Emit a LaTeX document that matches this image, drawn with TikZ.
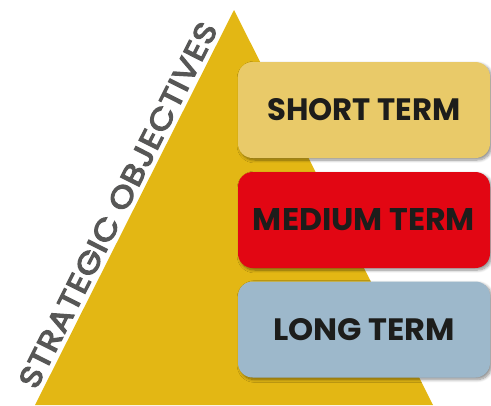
\documentclass[tikz,border=0pt]{standalone}
\usepackage{fontspec}
\setmainfont{Poppins}
\newfontfamily\sidefont{Poppins}[FakeBold=4, LetterSpace=3]
\usetikzlibrary{shadows.blur}
\definecolor{pyr}{HTML}{E3B714}
\definecolor{shortc}{HTML}{E9CA69}
\definecolor{medc}{HTML}{E20613}
\definecolor{longc}{HTML}{9DB8CB}
\definecolor{txtdark}{HTML}{1D1D1B}
\definecolor{txtgray}{HTML}{575756}
\begin{document}
\begin{tikzpicture}[x=0.75pt,y=-0.75pt,
  termbox/.style={draw=none, rounded corners=11pt, minimum width=189pt, minimum height=72pt,
    inner sep=0pt, text=txtdark, font=\bfseries,
    blur shadow={shadow xshift=1.5pt, shadow yshift=-1.5pt, shadow blur steps=8, shadow opacity=45}},
  sidelabel/.style={inner sep=0pt, text=txtgray, font=\sidefont}]
\useasboundingbox (0,0) rectangle (491,405);
\fill[pyr] (234,10) coordinate (apex) -- (35,405) coordinate (bl) -- (433,405) coordinate (br) -- cycle;
\node[termbox, fill=shortc] (short) at (364,110) {\resizebox{144.75pt}{16.5pt}{SHORT TERM}};
\node[termbox, fill=medc] (medium) at (364,220) {\resizebox{166.5pt}{16.5pt}{MEDIUM TERM}};
\node[termbox, fill=longc] (long) at (364,329.5) {\resizebox{136.5pt}{16.5pt}{LONG TERM}};
\node[sidelabel, rotate=63.26] (strat) at (118,205) {\resizebox{303.75pt}{15.75pt}{STRATEGIC OBJECTIVES}};
\end{tikzpicture}
\end{document}
